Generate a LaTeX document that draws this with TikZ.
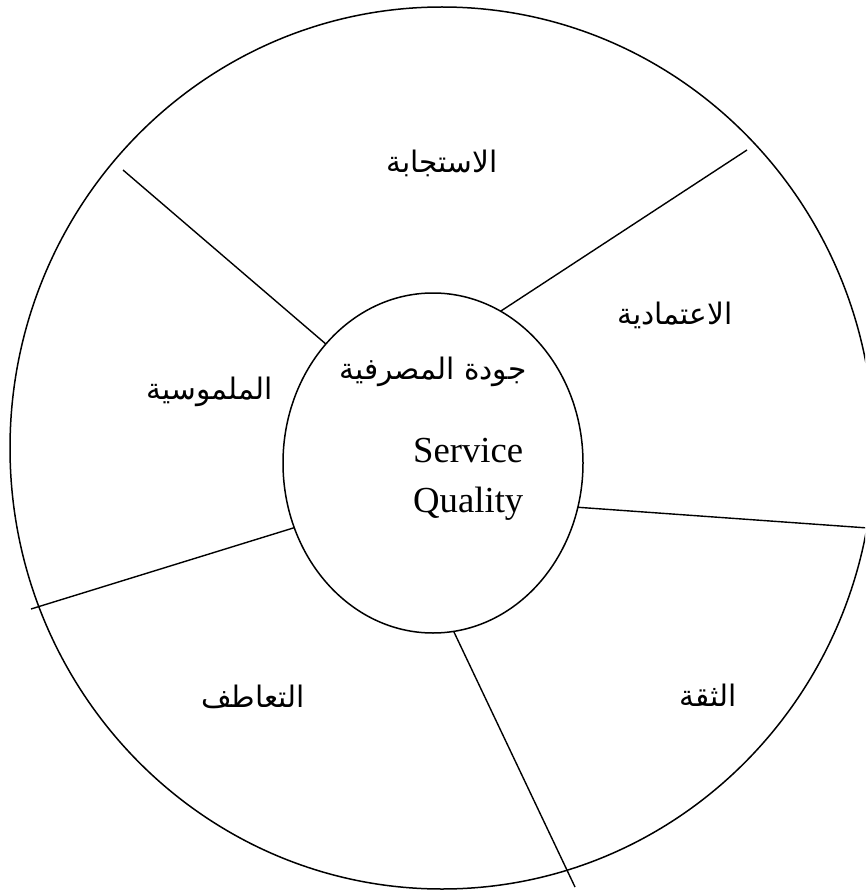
\documentclass[tikz,border=0pt]{standalone}
\usepackage{fontspec}
\setmainfont{Liberation Serif}
\newfontfamily\arabicfont[Script=Arabic]{DejaVu Sans}
\TeXXeTstate=1
\usetikzlibrary{shapes.geometric}
\begin{document}
\begin{tikzpicture}[x=1pt,y=-1pt,
  ring/.style={ellipse, draw, line width=1.5pt, inner sep=0pt, outer sep=0pt},
  divider/.style={line width=1.4pt},
  arlabel/.style={inner sep=0pt, font=\arabicfont\fontsize{29.6}{34}\selectfont},
  enlabel/.style={inner sep=0pt, anchor=base west, font=\fontsize{36.7}{44}\selectfont}]
  \clip (0,0) rectangle (865,893);

  % outer wheel and hub
  \node[ring, minimum width=864pt, minimum height=882pt] (rim) at (442,448) {};
  \node[ring, minimum width=300pt, minimum height=340pt] (core) at (433,463) {};

  % free ends of the spokes
  \coordinate (o1) at (123,170);
  \coordinate (o2) at (747,150);
  \coordinate (o3) at (868,528);
  \coordinate (o4) at (575,887);
  \coordinate (o5) at (31,609);

  \draw[divider] (core.132) -- (o1);
  \draw[divider] (core.66.4) -- (o2);
  \draw[divider] (core.-17.1) -- (o3);
  \draw[divider] (core.-83.3) -- (o4);
  \draw[divider] (core.205) -- (o5);

  % sector labels
  \node[arlabel] (resp) at (442,163) {\beginR الاستجابة\endR};
  \node[arlabel] (reli) at (675,315) {\beginR الاعتمادية\endR};
  \node[arlabel] (tang) at (210,392) {\beginR الملموسية\endR};
  \node[arlabel] (empa) at (253,697) {\beginR التعاطف\endR};
  \node[arlabel] (trus) at (708,695) {\beginR الثقة\endR};

  % hub labels
  \node[arlabel] (hub) at (433,372) {\beginR جودة المصرفية\endR};
  \node[enlabel] (sv) at (413,462) {Service};
  \node[enlabel] (ql) at (413,512) {Quality};
\end{tikzpicture}
\end{document}
